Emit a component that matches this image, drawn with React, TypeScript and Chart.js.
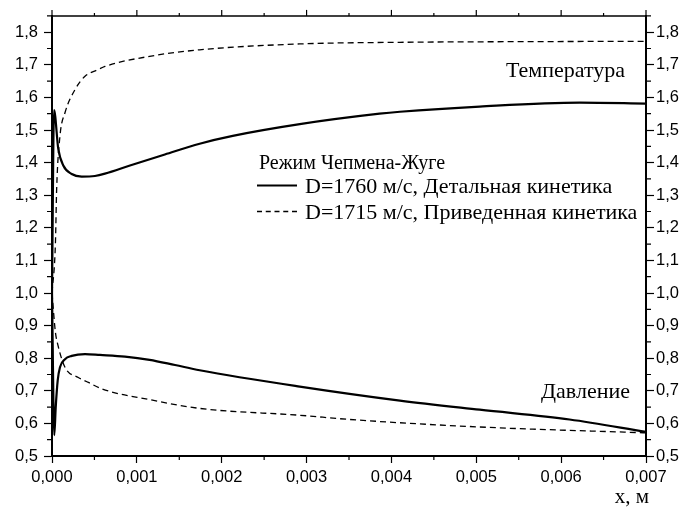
import React, { useEffect, useRef } from "react";
import { Chart, registerables } from "chart.js";

Chart.register(...registerables);

// Axis ticks
const X_TICKS = [0, 0.001, 0.002, 0.003, 0.004, 0.005, 0.006, 0.007];
const Y_TICKS = [0.5, 0.6, 0.7, 0.8, 0.9, 1.0, 1.1, 1.2, 1.3, 1.4, 1.5, 1.6, 1.7, 1.8];

// Labels
const LEGEND_TITLE = "Режим Чепмена-Жуге";
const LABEL_DETAIL = "D=1760 м/с, Детальная кинетика";
const LABEL_REDUCED = "D=1715 м/с, Приведенная кинетика";
const TEMP_LABEL = "Температура";
const PRES_LABEL = "Давление";
const X_TITLE = "x, м";

// Temperature, detailed kinetics (solid)
const T_DETAIL_X = [0, 0.000024, 0.000074, 0.000133, 0.000232, 0.00035, 0.000506, 0.000624, 0.000919, 0.00133, 0.00174, 0.00213, 0.00292, 0.00386, 0.0041, 0.00504, 0.00622, 0.007];
const T_DETAIL_Y = [1.0, 1.561, 1.442, 1.391, 1.365, 1.357, 1.359, 1.366, 1.391, 1.425, 1.458, 1.482, 1.518, 1.55, 1.556, 1.572, 1.584, 1.581];

// Temperature, reduced kinetics (dashed)
const T_REDUCED_X = [0, 0.00004, 0.000055, 0.000094, 0.000153, 0.000271, 0.000389, 0.000542, 0.000624, 0.00115, 0.00174, 0.00292, 0.0041, 0.0055, 0.007];
const T_REDUCED_Y = [1.0, 1.15, 1.32, 1.482, 1.553, 1.624, 1.665, 1.685, 1.695, 1.726, 1.746, 1.764, 1.769, 1.771, 1.772];

// Pressure, detailed kinetics (solid)
const P_DETAIL_X = [0, 0.000027, 0.000044, 0.000067, 0.000094, 0.000153, 0.000232, 0.000389, 0.000565, 0.00086, 0.00115, 0.00145, 0.00174, 0.00292, 0.0041, 0.00504, 0.0061, 0.007];
const P_DETAIL_Y = [1.0, 0.564, 0.65, 0.731, 0.772, 0.797, 0.807, 0.8125, 0.81, 0.805, 0.795, 0.779, 0.763, 0.713, 0.67, 0.642, 0.612, 0.574];

// Pressure, reduced kinetics (dashed)
const P_REDUCED_X = [0, 0.00004, 0.000067, 0.000153, 0.00031, 0.000428, 0.000585, 0.00115, 0.00174, 0.00292, 0.00351, 0.00504, 0.007];
const P_REDUCED_Y = [1.0, 0.88, 0.843, 0.772, 0.741, 0.726, 0.706, 0.673, 0.646, 0.625, 0.612, 0.589, 0.571];

const toPoints = (xs: number[], ys: number[]) => xs.map((x, i) => ({ x, y: ys[i] }));
const comma = (v: number, d: number) => v.toFixed(d).replace(".", ",");

const SERIF = "'Liberation Serif', 'Times New Roman', serif";
const SANS = "'Liberation Sans', Arial, sans-serif";

const framePlugin = {
  id: "frame",
  afterDraw(chart: any) {
    const { ctx, chartArea, scales } = chart;
    const { left, right, top, bottom } = chartArea;
    ctx.save();
    ctx.strokeStyle = "#000";
    ctx.lineWidth = 1.5;
    ctx.beginPath();
    ctx.moveTo(left, top);
    ctx.lineTo(right, top);
    ctx.stroke();
    ctx.lineWidth = 1.2;
    const xs = scales.x;
    for (let i = 0; i < X_TICKS.length; i++) {
      const px = xs.getPixelForValue(X_TICKS[i]);
      ctx.beginPath();
      ctx.moveTo(px, top);
      ctx.lineTo(px, top - 6);
      ctx.stroke();
      if (i < X_TICKS.length - 1) {
        const mp = xs.getPixelForValue((X_TICKS[i] + X_TICKS[i + 1]) / 2);
        ctx.beginPath();
        ctx.moveTo(mp, bottom);
        ctx.lineTo(mp, bottom + 4);
        ctx.moveTo(mp, top);
        ctx.lineTo(mp, top - 3);
        ctx.stroke();
      }
    }
    const ys = scales.y;
    for (let i = 0; i < Y_TICKS.length; i++) {
      const mv = Y_TICKS[i] + 0.05;
      if (mv > ys.max) continue;
      const py = ys.getPixelForValue(mv);
      ctx.beginPath();
      ctx.moveTo(left, py);
      ctx.lineTo(left - 5, py);
      ctx.moveTo(right, py);
      ctx.lineTo(right + 5, py);
      ctx.stroke();
    }
    ctx.restore();
  },
};

const textPlugin = {
  id: "texts",
  afterDraw(chart: any) {
    const { ctx } = chart;
    ctx.save();
    ctx.fillStyle = "#000";
    ctx.strokeStyle = "#000";
    ctx.font = `22px ${SERIF}`;
    ctx.textBaseline = "alphabetic";
    ctx.textAlign = "right";
    ctx.fillText(TEMP_LABEL, 625, 77);
    ctx.fillText(PRES_LABEL, 630, 398);
    ctx.font = `21px ${SERIF}`;
    ctx.fillText(X_TITLE, 649, 503);
    ctx.textAlign = "left";
    ctx.font = `20px ${SERIF}`;
    ctx.fillText(LEGEND_TITLE, 259, 169);
    ctx.font = `22px ${SERIF}`;
    const entries = chart.data.datasets.slice(0, 2);
    const baselines = [193, 219];
    entries.forEach((ds: any, i: number) => {
      const b = baselines[i];
      ctx.lineWidth = ds.borderWidth;
      ctx.setLineDash(ds.borderDash && ds.borderDash.length ? [5, 3.75] : []);
      ctx.beginPath();
      ctx.moveTo(257, b - 7.5);
      ctx.lineTo(297, b - 7.5);
      ctx.stroke();
      ctx.setLineDash([]);
      ctx.fillText(ds.label, 305, b);
    });
    ctx.restore();
  },
};

export default function App() {
  const canvasRef = useRef<HTMLCanvasElement | null>(null);

  useEffect(() => {
    const canvas = canvasRef.current;
    if (!canvas) return;
    const solid = { borderColor: "#000", borderWidth: 2.2, pointRadius: 0, fill: false, cubicInterpolationMode: "monotone" as const };
    const dashed = { borderColor: "#000", borderWidth: 1.3, borderDash: [6, 4], pointRadius: 0, fill: false, cubicInterpolationMode: "monotone" as const };
    const yCommon = {
      type: "linear" as const,
      min: 0.5,
      max: 1.85,
      afterBuildTicks: (s: any) => {
        s.ticks = Y_TICKS.map((v) => ({ value: v }));
      },
      border: { color: "#000", width: 2 },
      grid: { drawOnChartArea: false, tickLength: 8, tickWidth: 1.2, tickColor: "#000" },
    };
    const chart = new Chart(canvas, {
      type: "line",
      data: {
        datasets: [
          { label: LABEL_DETAIL, data: toPoints(T_DETAIL_X, T_DETAIL_Y), ...solid },
          { label: LABEL_REDUCED, data: toPoints(T_REDUCED_X, T_REDUCED_Y), ...dashed },
          { label: LABEL_DETAIL + " (давление)", data: toPoints(P_DETAIL_X, P_DETAIL_Y), ...solid },
          { label: LABEL_REDUCED + " (давление)", data: toPoints(P_REDUCED_X, P_REDUCED_Y), ...dashed },
        ],
      },
      options: {
        animation: false,
        responsive: false,
        maintainAspectRatio: false,
        layout: { padding: { top: 12, left: 0, right: 0, bottom: 0 } },
        plugins: { legend: { display: false }, tooltip: { enabled: false } },
        scales: {
          x: {
            type: "linear",
            min: 0,
            max: 0.007,
            afterBuildTicks: (s: any) => {
              s.ticks = X_TICKS.map((v) => ({ value: v }));
            },
            afterFit: (s: any) => {
              s.height = 55;
            },
            ticks: {
              callback: (v: any) => comma(Number(v), 3),
              color: "#000",
              font: { family: SANS, size: 16.5 },
              padding: 5,
              maxRotation: 0,
            },
            border: { color: "#000", width: 2 },
            grid: { drawOnChartArea: false, tickLength: 7, tickWidth: 1.2, tickColor: "#000" },
          },
          y: {
            ...yCommon,
            position: "left",
            afterFit: (s: any) => {
              s.width = 52;
            },
            ticks: {
              callback: (v: any) => comma(Number(v), 1),
              color: "#000",
              font: { family: SANS, size: 16.5 },
              padding: 6,
            },
          },
          y2: {
            ...yCommon,
            position: "right",
            afterFit: (s: any) => {
              s.width = 40;
            },
            ticks: {
              callback: (v: any) => comma(Number(v), 1),
              color: "#000",
              font: { family: SANS, size: 16.5 },
              padding: 2,
            },
          },
        },
      },
      plugins: [framePlugin, textPlugin],
    });
    return () => chart.destroy();
  }, []);

  return (
    <div style={{ position: "fixed", left: 0, top: 0, width: 686, height: 511, background: "#fff" }}>
      <canvas ref={canvasRef} width={686} height={511} style={{ display: "block" }} />
    </div>
  );
}
